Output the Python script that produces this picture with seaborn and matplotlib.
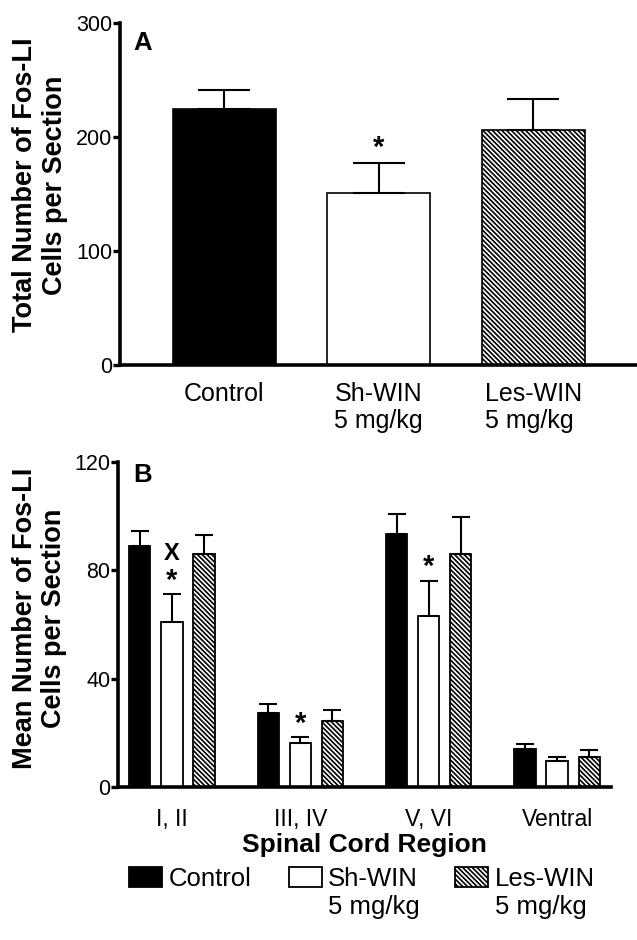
import numpy as np
import pandas as pd
import matplotlib
matplotlib.use("Agg")
import matplotlib.pyplot as plt
import seaborn as sns

# ---------------- data ----------------
treatments = ["Control", "Sh-WIN", "Les-WIN"]
tick_labels_a = ["Control", "Sh-WIN\n5 mg/kg", "Les-WIN\n5 mg/kg"]
total_mean = [224.5, 150.5, 206.5]
total_sem = [17.0, 26.5, 26.5]
sig_a = ["", "*", ""]

regions = ["I, II", "III, IV", "V, VI", "Ventral"]
control_b = [88.9, 27.3, 93.3, 14.1]
control_b_sem = [5.7, 3.4, 7.4, 1.9]
shwin_b = [60.9, 16.3, 63.1, 9.5]
shwin_b_sem = [10.2, 2.0, 13.1, 1.5]
leswin_b = [86.0, 24.2, 86.0, 11.1]
leswin_b_sem = [7.1, 4.3, 13.8, 2.7]
sig_b = {("Sh-WIN", "I, II"): "*", ("Sh-WIN", "III, IV"): "*", ("Sh-WIN", "V, VI"): "*"}
sig_b2 = {("Sh-WIN", "I, II"): "X"}

colors = ["black", "white", "white"]
HATCH = "\\" * 7

# ---------------- style ----------------
sns.set_style("ticks")
plt.rcParams["font.family"] = ["Liberation Sans", "DejaVu Sans"]
plt.rcParams["hatch.linewidth"] = 1.2
plt.rcParams["hatch.color"] = "black"
for k in ["text.color", "axes.labelcolor", "xtick.color", "ytick.color",
          "axes.edgecolor"]:
    plt.rcParams[k] = "black"

W, H = 637, 940
fig = plt.figure(figsize=(W / 100, H / 100), dpi=100)


def style_axis(ax, tickpad):
    sns.despine(ax=ax)
    ax.spines["left"].set_linewidth(2.6)
    ax.spines["bottom"].set_linewidth(2.6)
    ax.spines["left"].set_color("black")
    ax.spines["bottom"].set_color("black")
    ax.tick_params(axis="y", direction="out", length=5, width=2.4,
                   labelsize=15.5, pad=0.5, colors="black")
    ax.tick_params(axis="x", length=0, labelsize=18, pad=tickpad,
                   colors="black")
    ax.set_facecolor("none")


# ---------------- panel A ----------------
axA = fig.add_axes([120 / W, (H - 365) / H, 517 / W, 342 / H])
df_a = pd.DataFrame({"group": treatments, "value": total_mean})
sns.barplot(data=df_a, x="group", y="value", hue="group", palette=colors,
            hue_order=treatments, order=treatments, width=0.667,
            edgecolor="black", linewidth=1.2, errorbar=None, legend=False,
            ax=axA)
bars_a = list(axA.containers)
for i, cont in enumerate(bars_a):
    idx = i
    for p in cont.patches:
        if treatments[idx] == "Les-WIN":
            p.set_hatch(HATCH)
        xc = p.get_x() + p.get_width() / 2
        h = p.get_height()
        axA.errorbar([xc], [h], yerr=[[0], [total_sem[idx]]], fmt="none",
                     ecolor="black", elinewidth=1.5, capsize=19, capthick=1.5,
                     zorder=1)
        if sig_a[idx]:
            axA.text(xc, h + total_sem[idx] + 13, sig_a[idx], ha="center",
                     va="center", fontsize=21, fontweight="bold")
axA.set_xlim(-0.673, 2.67)
axA.set_ylim(0, 300)
axA.set_yticks([0, 100, 200, 300])
axA.set_xticks(range(3))
axA.set_xticklabels(tick_labels_a, multialignment="left")
style_axis(axA, 12)
axA.set_xlabel("")
axA.set_ylabel("Total Number of Fos-LI\nCells per Section", fontsize=19.5,
               fontweight="bold", linespacing=1.15, va="center")
axA.yaxis.set_label_coords((40 - 120) / 517, (365 - 185) / 342)
fig.text(133 / W, 1 - 50 / H, "A", fontsize=18.5, fontweight="bold",
         va="baseline", ha="left")

# ---------------- panel B ----------------
axB = fig.add_axes([118 / W, (H - 787) / H, 493 / W, 325 / H])
vals = {"Control": (control_b, control_b_sem), "Sh-WIN": (shwin_b, shwin_b_sem),
        "Les-WIN": (leswin_b, leswin_b_sem)}
rows = []
for t in treatments:
    for r, v in zip(regions, vals[t][0]):
        rows.append({"region": r, "treatment": t, "value": v})
df_b = pd.DataFrame(rows)
sns.barplot(data=df_b, x="region", y="value", hue="treatment",
            order=regions, hue_order=treatments, palette=colors,
            width=0.75, gap=0.34, edgecolor="black", linewidth=1.3,
            errorbar=None, legend=False, ax=axB)
bars_b = list(axB.containers)
for i, cont in enumerate(bars_b):
    t = treatments[i]
    for j, p in enumerate(cont.patches):
        if t == "Les-WIN":
            p.set_hatch(HATCH)
        xc = p.get_x() + p.get_width() / 2
        h = p.get_height()
        e = vals[t][1][j]
        axB.errorbar([xc], [h], yerr=[[0], [e]], fmt="none", ecolor="black",
                     elinewidth=1.5, capsize=6.5, capthick=1.5, zorder=1)
        key = (t, regions[j])
        if key in sig_b:
            axB.text(xc, h + e + 5, sig_b[key], ha="center", va="center",
                     fontsize=21, fontweight="bold")
        if key in sig_b2:
            axB.text(xc, h + e + 15, sig_b2[key], ha="center", va="center",
                     fontsize=17, fontweight="bold")
axB.set_xlim(-0.42, 3.42)
axB.set_ylim(0, 120)
axB.set_yticks([0, 40, 80, 120])
style_axis(axB, 15)
axB.tick_params(axis="x", labelsize=16.5)
axB.set_ylabel("Mean Number of Fos-LI\nCells per Section", fontsize=19.5,
               fontweight="bold", linespacing=1.15, va="center")
axB.yaxis.set_label_coords((40 - 118) / 493, (787 - 618) / 325)
axB.set_xlabel("Spinal Cord Region", fontsize=19, fontweight="bold")
axB.xaxis.label.set_verticalalignment("baseline")
axB.xaxis.set_label_coords((364 - 118) / 493, (787 - 852) / 325)
fig.text(133 / W, 1 - 482 / H, "B", fontsize=18.5, fontweight="bold",
         va="baseline", ha="left")

# legend
handles = [cont.patches[0] for cont in bars_b]
leg = fig.legend(handles, treatments, loc="center",
                 bbox_to_anchor=(362 / W, 1 - 879 / H), ncol=3, frameon=False,
                 fontsize=18.5, handlelength=1.28, handleheight=0.82,
                 handletextpad=0.25, columnspacing=1.45, borderpad=0,
                 borderaxespad=0)
fig.canvas.draw()
for txt in leg.get_texts():
    if txt.get_text() in ("Sh-WIN", "Les-WIN"):
        bb = txt.get_window_extent()
        fig.text(bb.x0 / W, (bb.y0 + 5.4 - 28) / H, "5 mg/kg", fontsize=18.5,
                 ha="left", va="baseline")

fig.savefig("out.png", dpi=100, facecolor="white")
